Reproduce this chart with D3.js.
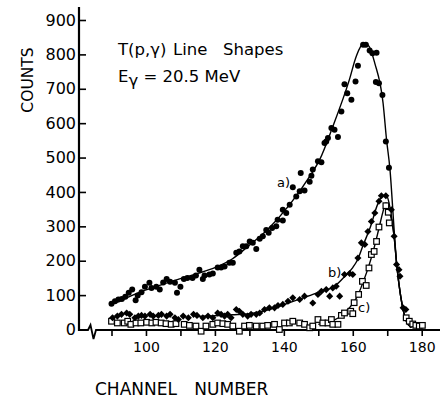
<!DOCTYPE html>
<html>
<head>
<meta charset="utf-8">
<script src="https://cdn.jsdelivr.net/npm/d3@7"></script>
<style>
  body { margin: 0; background: #fff; }
  svg { display: block; font-family: "DejaVu Sans", sans-serif; }
</style>
</head>
<body>
<svg id="chart"></svg>
<script>
// data: [channel, counts]
let seriesA = [[90,75],[91,82],[92,87],[93,89],[94,95],[95,107],[96,116],[97,85],[97.6,99],[98.7,108],
  [99.7,124],[101,136],[101.6,121],[103,124],[104,116],[105,137],[106,147],[107,139],[108.4,136],[109,107],
  [110,124],[111,147],[112,150],[113.5,150],[114.5,157],[115.5,174],[116.5,147],[117,157],[118.4,160],[119.4,163],
  [120.8,180],[121.8,180],[122.8,183],[124.2,194],[125.2,194],[126.2,223],[127.1,227],[128.1,242],[129.1,242],[130.1,256],
  [131,252],[132,234],[133,264],[133.9,271],[134.9,289],[135.6,281],[136.6,295],[137.8,300],[138.2,319],[139.7,317],
  [139.7,348],[140.7,339],[141.7,363],[142.6,414],[143.6,387],[144.6,402],[144.9,455],[146,404],[147.5,430],[148,447],
  [148.4,465],[149.9,489],[150.9,486],[151.8,542],[152.3,547],[152.8,557],[153.8,586],[154.7,581],[155.7,560],[156.7,634],
  [157.6,713],[158.4,687],[159.6,668],[160.8,721],[161.5,767],[163,828],[163.8,828],[164.9,811],[165.7,803],[166.9,805],
  [166.7,720],[167.6,716],[168.6,682],[169.6,547],[170.5,470]];

let seriesB = [[90.3,34],[91.7,39],[92.9,44],[94.4,48],[95.3,44],[96.8,34],[97.8,39],[98.7,41],[99.7,39],[101.2,44],
  [102.1,39],[103.6,41],[104.5,44],[106,39],[107,44],[108.4,34],[109.4,29],[110.8,39],[112.3,34],[113.8,44],
  [114.8,41],[116.5,34],[118,39],[119.4,34],[120.8,48],[121.8,44],[122.8,39],[123.7,44],[124.7,34],[126.2,58],
  [127.1,53],[128.1,44],[129.5,39],[130.5,44],[132,44],[133,48],[134.4,58],[135.8,63],[137.3,63],[138.3,70],
  [139.7,73],[141.2,82],[142.6,92],[144.6,87],[146,97],[148.4,77],[149.9,102],[150.9,111],[152.3,116],[153.3,97],
  [154.2,121],[155.2,126],[156.2,97],[157.6,160],[159.1,163],[160,160],[161.5,208],[162.5,252],[163.5,247],[164.4,285],
  [165.4,314],[166.4,339],[167.6,373],[168.3,389],[169.6,389],[171.2,348],[172,271],[172.7,189],[173.4,174],[173.7,155],
  [174.6,63],[175.4,58]];

let seriesC = [[90,24],[91.7,19],[93.7,19],[94.7,24],[95.6,15],[97.1,19],[98.5,19],[100.2,21],[101.7,19],[102.9,21],
  [104.4,19],[105.8,17],[107.3,15],[108.7,17],[111.1,15],[112.6,12],[114.5,10],[116,-5],[117.4,10],[119.4,15],
  [120.8,19],[122.3,17],[123.7,15],[125.2,10],[127.1,-5],[128.6,10],[130,12],[132,10],[133.9,10],[135.3,12],
  [137.3,15],[138.7,0],[140.2,19],[141.6,19],[142.6,24],[144.6,19],[146,15],[147.5,5],[148.4,10],[149.9,29],
  [151.3,19],[152.8,19],[153.8,29],[154.2,15],[155.7,15],[156.7,41],[157.6,48],[159.4,53],[160,46],[160.4,78],
  [161.7,102],[162.8,140],[163.9,128],[164.7,179],[165.4,218],[166.2,227],[166.9,256],[167.6,298],[169.6,360],[170.3,341],
  [170.6,310],[175.5,34],[176.4,24],[177.4,16],[178.3,12],[179.3,10],[180.2,12]];

// fitted curves drawn through the points
let curveA = [[90,72],[95,95],[100,115],[105,132],[110,148],[115,163],[120,180],[125,205],[130,245],[135,288],
  [141.7,363],[147.5,445],[150.4,494],[154.2,590],[159,726],[161,794],[163,830],[164.5,826],[166.4,774],[168.8,658],
  [169.8,552],[170.8,465],[172,290],[172.7,194],[173.9,97],[174.6,58],[175.5,25],[177,5]];
let curveB = [[115,38],[120,40],[125,43],[130,46],[135,56],[140,72],[145,90],[150,108],[155,128],[158,158],
  [160,180],[161.5,205],[163,245],[165,295],[167.3,366],[168.8,390],[169.9,387],[171.2,330],[172,271],[172.7,194],
  [173.9,97],[174.6,58],[175.5,25],[177,5]];
let curveC = [[150,15],[153,22],[156,35],[158,52],[160,75],[161.5,100],[163,138],[164.5,180],[166,230],[167.5,290],
  [168.7,340],[169.6,368],[170.4,352],[171.2,320],[172,271],[172.7,194],[173.9,97],[174.6,58],[175.5,30],[177,14],
  [179,8]];

let xTicks = [90,100,110,120,130,140,150,160,170,180];
let xLabels = [100,120,140,160,180];
let yTicks = [0,100,200,300,400,500,600,700,800,900];

let width = 440, height = 399;

let svg = d3.select('#chart')
    .attr('width', width)
    .attr('height', height);

svg.append('rect').attr('width', width).attr('height', height).attr('fill', '#fff');

let x = d3.scaleLinear().domain([90, 180]).range([111.5, 421.7]);
let y = d3.scaleLinear().domain([0, 900]).range([329.5, 20]);

let x0 = 79, y0 = 330;

// y axis, ticks pointing inwards
let yAxis = svg.append('g')
    .attr('transform', `translate(${x0},0)`)
    .call(d3.axisLeft(y).tickValues(yTicks).tickSize(-7).tickPadding(3));
yAxis.select('.domain').remove();
yAxis.selectAll('line').attr('stroke', '#000').attr('stroke-width', 1.6);
yAxis.selectAll('text')
    .style('font-family', '"DejaVu Sans", sans-serif')
    .style('font-size', '16px')
    .attr('fill', '#000');

// x axis
let xAxis = svg.append('g')
    .attr('transform', `translate(0,${y0})`)
    .call(d3.axisBottom(x).tickValues(xTicks).tickSize(6).tickPadding(6)
        .tickFormat(d => xLabels.includes(d) ? d : ''));
xAxis.select('.domain').remove();
xAxis.selectAll('line').attr('stroke', '#000').attr('stroke-width', 1.6);
xAxis.selectAll('text')
    .style('font-family', '"DejaVu Sans", sans-serif')
    .style('font-size', '14px')
    .attr('fill', '#000');

// axis lines (x axis with the break mark)
svg.append('line')
    .attr('x1', x0).attr('x2', x0)
    .attr('y1', 7).attr('y2', y0 + 1)
    .attr('stroke', '#000').attr('stroke-width', 2.2);
svg.append('path')
    .attr('d', `M${x0},${y0} L88,${y0} L90.5,325 L93.5,339 L96,${y0} L${width},${y0}`)
    .attr('fill', 'none')
    .attr('stroke', '#000').attr('stroke-width', 1.8)
    .attr('stroke-linejoin', 'miter');

// fitted curves
let line = d3.line()
    .x(d => x(d[0]))
    .y(d => y(d[1]))
    .curve(d3.curveMonotoneX);

[curveA, curveB, curveC].forEach(c => {
    svg.append('path')
        .attr('d', line(c))
        .attr('fill', 'none')
        .attr('stroke', '#000')
        .attr('stroke-width', 1.4);
});

// open squares (c)
svg.append('g').selectAll('rect')
    .data(seriesC).enter()
    .append('rect')
        .attr('x', d => x(d[0]) - 2.8)
        .attr('y', d => y(d[1]) - 2.8)
        .attr('width', 5.6)
        .attr('height', 5.6)
        .attr('fill', '#fff')
        .attr('stroke', '#000')
        .attr('stroke-width', 1.2);

// diamonds (b)
svg.append('g').selectAll('path')
    .data(seriesB).enter()
    .append('path')
        .attr('d', d3.symbol().type(d3.symbolDiamond2).size(32))
        .attr('transform', d => `translate(${x(d[0])},${y(d[1])})`)
        .attr('fill', '#000');

// dots (a)
svg.append('g').selectAll('circle')
    .data(seriesA).enter()
    .append('circle')
        .attr('cx', d => x(d[0]))
        .attr('cy', d => y(d[1]))
        .attr('r', 3)
        .attr('fill', '#000');

// curve labels
let tags = [{t: 'a)', x: 277, y: 187}, {t: 'b)', x: 328, y: 277}, {t: 'c)', x: 358, y: 312}];
svg.selectAll('text.tag')
    .data(tags).enter()
    .append('text')
        .attr('class', 'tag')
        .attr('x', d => d.x)
        .attr('y', d => d.y)
        .text(d => d.t)
        .style('font-size', '13px');

// titles
let tt = svg.append('text')
    .attr('x', 118).attr('y', 55)
    .style('font-size', '16.5px');
tt.append('tspan').text('T(p,γ)');
tt.append('tspan').attr('x', 173).text('Line');
tt.append('tspan').attr('x', 223).text('Shapes');

let eg = svg.append('text')
    .attr('x', 118).attr('y', 82)
    .style('font-size', '16.5px');
eg.append('tspan').text('E');
eg.append('tspan').attr('dy', 4).text('γ');
eg.append('tspan').attr('dy', -4).text(' = 20.5 MeV');

svg.append('text')
    .attr('transform', 'translate(33,80) rotate(-90)')
    .attr('text-anchor', 'middle')
    .style('font-size', '15.5px')
    .text('COUNTS');

svg.append('text')
    .attr('x', 95).attr('y', 395)
    .style('font-size', '17px')
    .style('word-spacing', '12px')
    .text('CHANNEL NUMBER');
</script>
</body>
</html>
